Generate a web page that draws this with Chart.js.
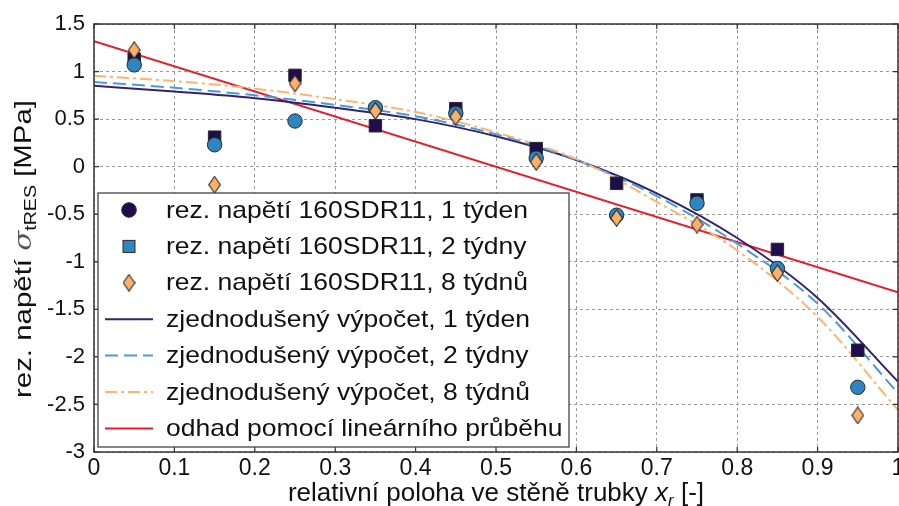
<!DOCTYPE html>
<html><head><meta charset="utf-8">
<script src="https://cdn.jsdelivr.net/npm/chart.js@4.4.0/dist/chart.umd.min.js"></script>
<style>html,body{margin:0;padding:0;background:#fff;overflow:hidden}#wrap{width:899px;height:506px;position:relative}</style>
</head><body><div id="wrap"><canvas id="c" width="899" height="506"></canvas></div>
<script>
// ---- data ----
const xPositions = [0.05, 0.15, 0.25, 0.35, 0.45, 0.55, 0.65, 0.75, 0.85, 0.95];
const measured1week = [1.13, 0.31, 0.96, 0.43, 0.61, 0.19, -0.175, -0.35, -0.87, -1.93];
const measured2weeks = [1.07, 0.23, 0.48, 0.62, 0.56, 0.09, -0.51, -0.385, -1.07, -2.32];
const measured8weeks = [1.225, -0.19, 0.875, 0.585, 0.525, 0.05, -0.54, -0.61, -1.12, -2.615];
const calcX = [0, 0.1, 0.2, 0.3, 0.4, 0.5, 0.6, 0.7, 0.8, 0.9, 1.0];
const calc1week = [0.85, 0.79, 0.72, 0.62, 0.50, 0.32, 0.07, -0.28, -0.75, -1.38, -2.26];
const calc2weeks = [0.89, 0.83, 0.75, 0.65, 0.53, 0.34, 0.07, -0.31, -0.81, -1.44, -2.38];
const calc8weeks = [0.955, 0.90, 0.82, 0.71, 0.575, 0.36, 0.08, -0.37, -0.88, -1.58, -2.56];
const linearX = [0, 1];
const linearY = [1.32, -1.32];
const xTickValues = [0, 0.1, 0.2, 0.3, 0.4, 0.5, 0.6, 0.7, 0.8, 0.9, 1];
const yTickValues = [-3, -2.5, -2, -1.5, -1, -0.5, 0, 0.5, 1, 1.5];
const seriesLabels = [
  'rez. napětí 160SDR11, 1 týden',
  'rez. napětí 160SDR11, 2 týdny',
  'rez. napětí 160SDR11, 8 týdnů',
  'zjednodušený výpočet, 1 týden',
  'zjednodušený výpočet, 2 týdny',
  'zjednodušený výpočet, 8 týdnů',
  'odhad pomocí lineárního průběhu'
];
const xTitleParts = ['relativní poloha ve stěně trubky ', 'x', 'r', ' [-]'];
const yTitleParts = ['rez. napětí ', 'σ', 'tRES', ' [MPa]'];

// ---- styles ----
const C_DARK = '#1f0d4e', C_DARKLINE = '#33226f', C_BLUE = '#2e86c1', C_BLUELINE = '#4b9bd5',
      C_ORANGE = '#fdb068', C_ORANGELINE = '#fdb46e', C_RED = '#e41f28', C_EDGE = '#2a2a2a';
const NARROW = '"Liberation Sans Narrow", "Arial Narrow", "Liberation Sans", sans-serif';
const SANS = '"Liberation Sans", Arial, sans-serif';

function makeDiamond(w, h, fill) {
  const cv = document.createElement('canvas');
  cv.width = w; cv.height = h;
  const g = cv.getContext('2d');
  g.beginPath();
  g.moveTo(w / 2, 0.7); g.lineTo(w - 0.7, h / 2); g.lineTo(w / 2, h - 0.7); g.lineTo(0.7, h / 2); g.closePath();
  g.fillStyle = fill; g.fill();
  g.lineWidth = 1.1; g.strokeStyle = C_EDGE; g.stroke();
  return cv;
}
const diamondImg = makeDiamond(13, 18, C_ORANGE);

const pts = (xs, ys) => xs.map((x, i) => ({ x, y: ys[i] }));

const datasets = [
  { label: seriesLabels[0], data: pts(xPositions, measured1week), pointStyle: 'rect', pointRadius: 8.8,
    backgroundColor: C_DARK, borderColor: C_EDGE, borderWidth: 1, showLine: false, order: 3 },
  { label: seriesLabels[1], data: pts(xPositions, measured2weeks), pointStyle: 'circle', pointRadius: 7.2,
    backgroundColor: C_BLUE, borderColor: C_EDGE, borderWidth: 1, showLine: false, order: 2 },
  { label: seriesLabels[2], data: pts(xPositions, measured8weeks), pointStyle: diamondImg, pointRadius: 8,
    backgroundColor: C_ORANGE, borderColor: C_EDGE, borderWidth: 1, showLine: false, order: 1 },
  { label: seriesLabels[3], data: pts(calcX, calc1week), showLine: true, pointRadius: 0, borderColor: C_DARKLINE,
    borderWidth: 2, cubicInterpolationMode: 'monotone', order: 6 },
  { label: seriesLabels[4], data: pts(calcX, calc2weeks), showLine: true, pointRadius: 0, borderColor: C_BLUELINE,
    borderWidth: 2, borderDash: [13, 6], cubicInterpolationMode: 'monotone', order: 5 },
  { label: seriesLabels[5], data: pts(calcX, calc8weeks), showLine: true, pointRadius: 0, borderColor: C_ORANGELINE,
    borderWidth: 2, borderDash: [12, 4, 3, 4], cubicInterpolationMode: 'monotone', order: 4 },
  { label: seriesLabels[6], data: pts(linearX, linearY), showLine: true, pointRadius: 0, borderColor: C_RED,
    borderWidth: 2, order: 7 }
];

// frame with inward ticks + x tick labels
const framePlugin = {
  id: 'frame',
  afterDatasetsDraw(chart) {
    const { ctx, chartArea: a, scales } = chart;
    ctx.save();
    ctx.strokeStyle = '#333'; ctx.lineWidth = 1.5;
    ctx.strokeRect(a.left, a.top, a.right - a.left, a.bottom - a.top);
    ctx.lineWidth = 1.2;
    ctx.beginPath();
    xTickValues.forEach(v => {
      const px = scales.x.getPixelForValue(v);
      ctx.moveTo(px, a.bottom); ctx.lineTo(px, a.bottom - 5);
      ctx.moveTo(px, a.top); ctx.lineTo(px, a.top + 5);
    });
    yTickValues.forEach(v => {
      const py = scales.y.getPixelForValue(v);
      ctx.moveTo(a.left, py); ctx.lineTo(a.left + 5, py);
      ctx.moveTo(a.right, py); ctx.lineTo(a.right - 5, py);
    });
    ctx.stroke();
    // x tick labels
    ctx.fillStyle = '#111';
    ctx.font = '23px ' + NARROW;
    ctx.textAlign = 'center';
    ctx.textBaseline = 'alphabetic';
    xTickValues.forEach(v => {
      ctx.fillText(String(v), scales.x.getPixelForValue(v), a.bottom + 23);
    });
    ctx.restore();
  }
};

// legend inside the plot (bottom-left)
const legendPlugin = {
  id: 'innerLegend',
  afterDraw(chart) {
    const { ctx, chartArea: a } = chart;
    const left = a.left + 4, right = 569, bottom = a.bottom - 5, top = 193;
    ctx.save();
    ctx.fillStyle = '#fff';
    ctx.fillRect(left, top, right - left, bottom - top);
    ctx.strokeStyle = '#444'; ctx.lineWidth = 1.3;
    ctx.strokeRect(left, top, right - left, bottom - top);
    const ds = chart.data.datasets;
    ctx.font = '24px ' + SANS;
    ctx.textBaseline = 'middle';
    ctx.textAlign = 'left';
    const sx = 362 / ctx.measureText(ds[0].label).width;
    const mx = 129;
    for (let i = 0; i < ds.length; i++) {
      const y = 210 + i * 36.4;
      if (i === 0) {
        ctx.beginPath(); ctx.arc(mx, y, 7.3, 0, Math.PI * 2);
        ctx.fillStyle = C_DARK; ctx.fill(); ctx.lineWidth = 1; ctx.strokeStyle = C_EDGE; ctx.stroke();
      } else if (i === 1) {
        ctx.fillStyle = C_BLUE; ctx.fillRect(mx - 6, y - 6, 12, 12);
        ctx.lineWidth = 1; ctx.strokeStyle = C_EDGE; ctx.strokeRect(mx - 6, y - 6, 12, 12);
      } else if (i === 2) {
        ctx.drawImage(diamondImg, mx - diamondImg.width / 2, y - diamondImg.height / 2);
      } else {
        ctx.beginPath();
        ctx.strokeStyle = ds[i].borderColor; ctx.lineWidth = 2;
        ctx.setLineDash(ds[i].borderDash || []);
        ctx.moveTo(105, y); ctx.lineTo(153, y); ctx.stroke();
        ctx.setLineDash([]);
      }
      ctx.save();
      ctx.translate(166, y + 1);
      ctx.scale(sx, 1);
      ctx.fillStyle = '#111';
      ctx.fillText(ds[i].label, 0, 0);
      ctx.restore();
    }
    ctx.restore();
  }
};

// axis titles with math parts
const titlePlugin = {
  id: 'titles',
  afterDraw(chart) {
    const { ctx, chartArea: a } = chart;
    ctx.save();
    ctx.fillStyle = '#111';
    ctx.textBaseline = 'alphabetic';
    ctx.textAlign = 'left';
    // x title
    const fN = '26px ' + NARROW;
    const fI = 'italic 26px ' + NARROW;
    const fS = 'italic 17px ' + NARROW;
    const xp = [[xTitleParts[0], fN, 0], [xTitleParts[1], fI, 0], [xTitleParts[2], fS, 5], [xTitleParts[3], fN, 0]];
    let tw = 0;
    xp.forEach(p => { ctx.font = p[1]; tw += ctx.measureText(p[0]).width; });
    let cx = (a.left + a.right) / 2 - tw / 2;
    const by = 501;
    xp.forEach(p => { ctx.font = p[1]; ctx.fillText(p[0], cx, by + p[2]); cx += ctx.measureText(p[0]).width; });
    // y title
    const gN = '24px ' + SANS;
    const gG = 'italic 24px "DejaVu Serif", serif';
    const gS = '16px ' + SANS;
    const yp = [[yTitleParts[0], gN, 0, '#111'], [yTitleParts[1], gG, 0, '#555'], [yTitleParts[2], gS, 5, '#111'], [yTitleParts[3], gN, 0, '#111']];
    tw = 0;
    yp.forEach(p => { ctx.font = p[1]; tw += ctx.measureText(p[0]).width; });
    const stretch = 298 / tw;
    ctx.translate(31, 249);
    ctx.rotate(-Math.PI / 2);
    ctx.scale(stretch, 1);
    cx = -tw / 2;
    yp.forEach(p => { ctx.font = p[1]; ctx.fillStyle = p[3]; ctx.fillText(p[0], cx, p[2]); cx += ctx.measureText(p[0]).width; });
    ctx.restore();
  }
};

new Chart(document.getElementById('c'), {
  type: 'scatter',
  data: { datasets },
  options: {
    responsive: false,
    animation: false,
    events: [],
    layout: { autoPadding: false, padding: { top: 24, right: 1, left: 0, bottom: 0 } },
    plugins: { legend: { display: false }, tooltip: { enabled: false }, title: { display: false } },
    scales: {
      x: {
        type: 'linear', min: 0, max: 1,
        afterBuildTicks: s => { s.ticks = xTickValues.map(v => ({ value: v })); },
        afterFit: s => { s.height = 54; s.paddingRight = 0; s.paddingLeft = 0; },
        ticks: { display: false },
        grid: { color: '#9a9a9a', lineWidth: 1, drawTicks: false },
        border: { display: false, dash: [3, 3] }
      },
      y: {
        type: 'linear', min: -3, max: 1.5,
        afterBuildTicks: s => { s.ticks = yTickValues.map(v => ({ value: v })); },
        afterFit: s => { s.width = 94; },
        ticks: { color: '#111', padding: 9, autoSkip: false,
                 font: { family: SANS, size: 22 },
                 callback: v => String(v) },
        grid: { color: '#9a9a9a', lineWidth: 1, drawTicks: false },
        border: { display: false, dash: [3, 3] }
      }
    }
  },
  plugins: [framePlugin, legendPlugin, titlePlugin]
});
</script></body></html>
